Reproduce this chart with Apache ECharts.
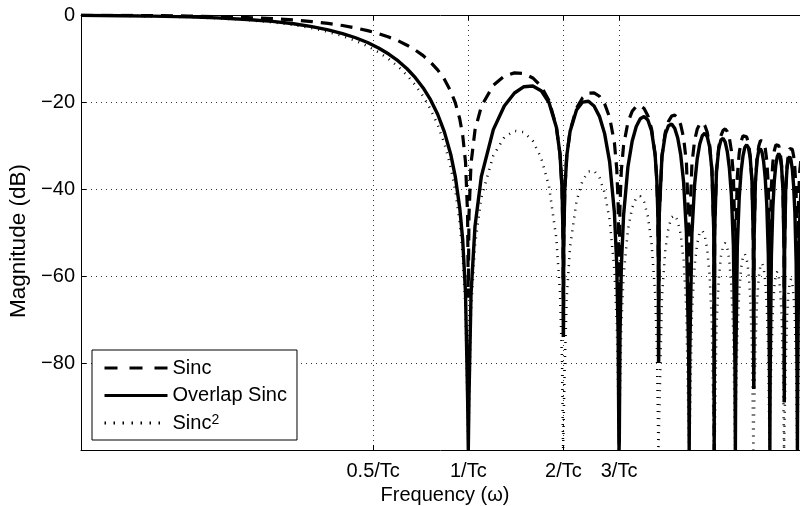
<!DOCTYPE html>
<html>
<head>
<meta charset="utf-8">
<script src="https://cdn.jsdelivr.net/npm/echarts@6/dist/echarts.min.js"></script>
<style>html,body{margin:0;padding:0;background:#fff}#c{width:800px;height:506px}</style>
</head>
<body>
<div id="c"></div>
<script>
// Frequencies (in units of 1/Tc), shared by the three curves
const freq = [
  0.0595,0.08,0.1,0.13,0.16,0.2,0.24,0.28,0.32,0.36,0.4,0.44,0.48,0.52,0.56,0.6,0.64,0.68,0.72,0.76,0.8,0.84,0.88,0.91,0.94,0.96,0.98,0.995,1,
  1.005,1.02,1.05,1.1,1.2,1.3,1.4,1.5,1.6,1.7,1.8,1.9,1.95,1.98,1.995,2,
  2.005,2.02,2.05,2.1,2.2,2.3,2.4,2.5,2.6,2.7,2.8,2.9,2.95,2.98,2.995,3,
  3.005,3.02,3.05,3.1,3.2,3.3,3.4,3.5,3.6,3.7,3.8,3.9,3.95,3.98,3.995,4,
  4.02,4.1,4.2,4.3,4.4,4.5,4.6,4.7,4.8,4.9,4.98,5,
  5.02,5.1,5.2,5.3,5.4,5.5,5.6,5.7,5.8,5.9,5.98,6,
  6.02,6.1,6.2,6.3,6.4,6.5,6.6,6.7,6.8,6.9,6.98,7,
  7.02,7.1,7.2,7.3,7.4,7.5,7.6,7.7,7.8,7.9,7.98,8,
  8.02,8.1,8.2,8.3,8.4,8.5,8.6,8.7,8.8,8.9,8.98,9,
  9.02,9.1,9.2,9.3,9.4,9.5,9.6,9.7,9.8,9.9,9.98,10,
  10.02,10.1,10.2,10.3,10.4,10.5,10.6,10.7,10.8,10.9,10.98,11,
  11.02,11.1,11.2,11.3,11.4,11.5
];

// Magnitude (dB) of "Sinc" (dashed)
const sincDb = [
  -0.05,-0.09,-0.14,-0.24,-0.37,-0.58,-0.84,-1.15,-1.52,-1.94,-2.42,-2.97,-3.59,-4.28,-5.06,-5.94,-6.94,-8.06,-9.35,-10.85,-12.62,-14.77,-17.51,-20.21,-23.95,-27.63,-33.81,-45.98,-65,
  -46.07,-34.16,-26.48,-20.97,-16.15,-14.06,-13.31,-13.47,-14.47,-16.39,-19.67,-25.72,-31.85,-39.92,-52.02,-74,
  -52.07,-40.09,-32.29,-26.59,-21.41,-19.02,-17.99,-17.90,-18.68,-20.41,-23.51,-29.39,-35.45,-43.47,-55.55,-70,
  -55.58,-43.58,-35.74,-29.97,-24.67,-22.15,-21.01,-20.82,-21.51,-23.15,-26.16,-31.96,-37.99,-45.98,-58.05,-80,
  -46.07,-32.40,-27.03,-24.45,-23.25,-23.01,-23.64,-25.23,-28.19,-33.95,-47.93,-70,
  -48.00,-34.29,-28.88,-26.27,-25.03,-24.75,-25.35,-26.90,-29.83,-35.56,-49.52,-100,
  -49.58,-35.85,-30.41,-27.77,-26.51,-26.20,-26.77,-28.30,-31.21,-36.92,-50.86,-70,
  -50.91,-37.17,-31.71,-29.05,-27.77,-27.44,-28.00,-29.51,-32.41,-38.10,-52.02,-86,
  -52.07,-38.31,-32.84,-30.17,-28.87,-28.53,-29.07,-30.57,-33.45,-39.13,-53.05,-70,
  -53.09,-39.32,-33.84,-31.15,-29.85,-29.50,-30.03,-31.52,-34.39,-40.06,-53.97,-89,
  -54.00,-40.23,-34.74,-32.04,-30.72,-30.37,-30.89,-32.37,-35.23,-40.89,-54.80,-70,
  -54.83,-41.05,-35.55,-32.85,-31.52,-31.16
];

// Magnitude (dB) of "Overlap Sinc" (solid)
const overlapDb = [
  -0.09,-0.16,-0.25,-0.43,-0.65,-1.02,-1.47,-2.02,-2.66,-3.41,-4.26,-5.23,-6.33,-7.57,-8.97,-10.56,-12.36,-14.41,-16.77,-19.53,-22.82,-26.86,-32.06,-37.23,-44.48,-51.67,-63.87,-88.08,-100,
  -88.17,-64.22,-48.59,-37.08,-26.35,-20.92,-17.93,-16.48,-16.31,-17.39,-20.11,-25.83,-31.88,-39.92,-52.02,-74,
  -52.07,-40.09,-32.32,-26.70,-21.85,-20.02,-19.83,-20.91,-23.30,-27.27,-33.71,-45.50,-57.56,-73.53,-97.65,-100,
  -97.68,-73.64,-57.85,-46.08,-34.87,-29.01,-25.63,-23.83,-23.35,-24.15,-26.60,-32.07,-38.02,-45.98,-58.05,-80,
  -46.07,-32.51,-27.47,-25.45,-25.09,-26.02,-28.26,-32.09,-38.39,-50.06,-77.99,-100,
  -78.06,-50.40,-39.08,-33.13,-29.65,-27.76,-27.19,-27.90,-30.27,-35.67,-49.52,-100,
  -49.58,-35.96,-30.85,-28.77,-28.35,-29.21,-31.39,-35.16,-41.41,-53.03,-80.92,-100,
  -80.97,-53.28,-41.91,-35.91,-32.39,-30.45,-29.84,-30.51,-32.85,-38.21,-52.02,-86,
  -52.07,-38.42,-33.28,-31.17,-30.71,-31.54,-33.69,-37.43,-43.65,-55.24,-83.11,-100,
  -83.15,-55.43,-44.04,-38.01,-34.47,-32.51,-31.87,-32.52,-34.83,-40.17,-53.97,-89,
  -54.00,-40.34,-35.18,-33.04,-32.56,-33.38,-35.51,-39.23,-45.43,-57.00,-84.86,-100,
  -84.89,-57.16,-45.75,-39.71,-36.14,-34.17
];

// Magnitude (dB) of "Sinc^2" (dotted)
const sinc2Db = [
  -0.10,-0.18,-0.29,-0.49,-0.74,-1.16,-1.68,-2.30,-3.03,-3.88,-4.84,-5.93,-7.17,-8.56,-10.12,-11.88,-13.87,-16.13,-18.71,-21.70,-25.24,-29.54,-35.03,-40.42,-47.90,-55.25,-67.62,-91.95,-100,
  -92.14,-68.32,-52.96,-41.94,-32.30,-28.12,-26.62,-26.94,-28.94,-32.78,-39.34,-51.44,-63.70,-79.84,-100,-100,
  -100,-80.18,-64.58,-53.18,-42.82,-38.04,-35.98,-35.80,-37.36,-40.82,-47.02,-58.78,-70.90,-86.94,-100,-100,
  -100,-87.16,-71.48,-59.94,-49.34,-44.30,-42.02,-41.64,-43.02,-46.30,-52.32,-63.92,-75.98,-91.96,-100,-100,
  -92.14,-64.80,-54.06,-48.90,-46.50,-46.02,-47.28,-50.46,-56.38,-67.90,-95.86,-100,
  -96.00,-68.58,-57.76,-52.54,-50.06,-49.50,-50.70,-53.80,-59.66,-71.12,-99.04,-100,
  -99.16,-71.70,-60.82,-55.54,-53.02,-52.40,-53.54,-56.60,-62.42,-73.84,-100,-100,
  -100,-74.34,-63.42,-58.10,-55.54,-54.88,-56.00,-59.02,-64.82,-76.20,-100,-100,
  -100,-76.62,-65.68,-60.34,-57.74,-57.06,-58.14,-61.14,-66.90,-78.26,-100,-100,
  -100,-78.64,-67.68,-62.30,-59.70,-59.00,-60.06,-63.04,-68.78,-80.12,-100,-100,
  -100,-80.46,-69.48,-64.08,-61.44,-60.74,-61.78,-64.74,-70.46,-81.78,-100,-100,
  -100,-82.10,-71.10,-65.70,-63.04,-62.32
];

const xTickValues = [0.5, 1, 2, 3];
const xTickLabels = ['0.5/Tc', '1/Tc', '2/Tc', '3/Tc'];
const seriesNames = ['Sinc', 'Overlap Sinc', 'Sinc\u00B2'];

const FONT = '"Liberation Sans", Arial, Helvetica, sans-serif';
function pairs(xs, ys) {
  const n = Math.min(xs.length, ys.length);
  const out = [];
  for (let i = 0; i < n; i++) out.push([xs[i], ys[i]]);
  return out;
}
function xLabel(v) {
  for (let i = 0; i < xTickValues.length; i++) {
    if (Math.abs(Math.log(v / xTickValues[i])) < 1e-4) return xTickLabels[i];
  }
  return '';
}
const gridLine = { show: true, lineStyle: { color: '#333', width: 1, type: [1, 4] } };

const chart = echarts.init(document.getElementById('c'), null, { renderer: 'canvas' });
chart.setOption({
  animation: false,
  backgroundColor: '#fff',
  grid: { left: 81, right: 0, top: 15, bottom: 56, containLabel: false, outerBoundsMode: 'none' },
  xAxis: [{
    type: 'log', logBase: 10, min: 0.0595, max: 11.21,
    position: 'bottom',
    name: 'Frequency (\u03C9)', nameLocation: 'middle', nameGap: 23,
    nameTextStyle: { fontFamily: FONT, fontSize: 20, color: '#000', padding: [0, 0, 0, 9] },
    axisLine: { show: true, onZero: false, lineStyle: { color: '#000', width: 1 } },
    axisTick: { show: true, inside: true, length: 5, customValues: xTickValues, lineStyle: { color: '#000' } },
    axisLabel: { show: true, customValues: xTickValues, formatter: xLabel, margin: 11,
                 fontFamily: FONT, fontSize: 20, color: '#000' },
    minorTick: { show: false },
    splitLine: gridLine
  }, {
    type: 'log', logBase: 10, min: 0.0595, max: 11.21,
    position: 'top',
    axisLine: { show: true, onZero: false, lineStyle: { color: '#000', width: 1 } },
    axisTick: { show: true, inside: true, length: 5, customValues: xTickValues, lineStyle: { color: '#000' } },
    axisLabel: { show: false },
    splitLine: { show: false }
  }],
  yAxis: {
    type: 'value', min: -100, max: 0, interval: 20,
    name: 'Magnitude (dB)', nameLocation: 'middle', nameGap: 48,
    nameTextStyle: { fontFamily: FONT, fontSize: 22.5, color: '#000', padding: [0, 17, 0, 0] },
    axisLine: { show: true, lineStyle: { color: '#000', width: 1 } },
    axisTick: { show: true, inside: true, length: 5, lineStyle: { color: '#000' } },
    axisLabel: {
      margin: 6, fontFamily: FONT, fontSize: 20, color: '#000',
      formatter: v => (v === -100 ? '' : (v < 0 ? '\u2212' + Math.abs(v) : String(v)))
    },
    splitLine: gridLine
  },
  legend: {
    orient: 'vertical', left: 92, top: 350,
    padding: [8, 10, 7, 11],
    itemWidth: 63, itemHeight: 20, itemGap: 7.5,
    backgroundColor: '#fff', borderColor: '#000', borderWidth: 1, borderRadius: 0,
    itemStyle: { opacity: 0 },
    formatter: n => (n === 'Sinc\u00B2' ? '{a|Sinc}{s|2}' : '{a|' + n + '}'),
    textStyle: {
      fontFamily: FONT, fontSize: 20, color: '#000',
      rich: {
        a: { fontFamily: FONT, fontSize: 20, color: '#000', lineHeight: 20 },
        s: { fontFamily: FONT, fontSize: 14, color: '#000', lineHeight: 9, verticalAlign: 'top' }
      }
    },
    data: [
      { name: seriesNames[0], lineStyle: { color: '#000', width: 3, type: [13, 12] } },
      { name: seriesNames[1], lineStyle: { color: '#000', width: 3, type: 'solid' } },
      { name: seriesNames[2], lineStyle: { color: '#000', width: 3, type: [1.5, 7.5] } }
    ]
  },
  series: [
    { name: seriesNames[0], type: 'line', data: pairs(freq, sincDb), symbol: 'none', clip: true, z: 3,
      itemStyle: { color: '#000' }, lineStyle: { color: '#000', width: 3.2, type: [12, 8] } },
    { name: seriesNames[1], type: 'line', data: pairs(freq, overlapDb), symbol: 'none', clip: true, z: 4,
      itemStyle: { color: '#000' }, lineStyle: { color: '#000', width: 3.4, type: 'solid' } },
    { name: seriesNames[2], type: 'line', data: pairs(freq, sinc2Db), symbol: 'none', clip: true, z: 2,
      itemStyle: { color: '#000' }, lineStyle: { color: '#000', width: 2.5, type: [1, 6] } }
  ]
});
</script>
</body>
</html>
